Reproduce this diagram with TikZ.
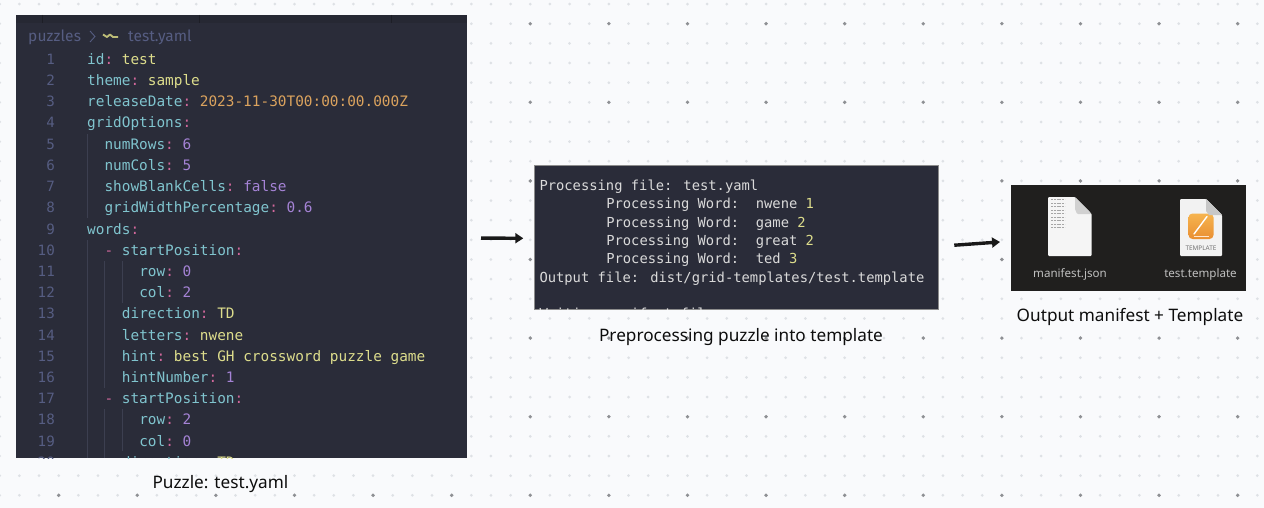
\documentclass[tikz,border=0pt]{standalone}
\usepackage{fontspec}
\usetikzlibrary{arrows.meta}
\setmainfont{Noto Sans}
\newfontfamily\codefont{DejaVu Sans Mono}
\newfontfamily\crumbfont{Fira Sans}
\definecolor{pagebg}{HTML}{F9FAFC}
\definecolor{smalldot}{HTML}{DEE1E5}
\definecolor{bigdot}{HTML}{8E9094}
\definecolor{editorbg}{HTML}{2A2C39}
\definecolor{tabbg}{HTML}{262833}
\definecolor{keyc}{HTML}{80C4CE}
\definecolor{colonc}{HTML}{D2689C}
\definecolor{valc}{HTML}{DDDD8C}
\definecolor{datec}{HTML}{DBA35E}
\definecolor{numc}{HTML}{A583D6}
\definecolor{linenoc}{HTML}{565D82}
\definecolor{guidec}{HTML}{3C3F50}
\definecolor{termtext}{HTML}{DADADA}
\definecolor{finderbg}{HTML}{201F1E}
\definecolor{icontop}{HTML}{F6B44F}
\definecolor{iconbot}{HTML}{E98F32}
\newcommand{\K}[1]{\textcolor{keyc}{#1}}
\newcommand{\Cn}{\textcolor{colonc}{:}}
\newcommand{\V}[1]{\textcolor{valc}{#1}}
\newcommand{\D}[1]{\textcolor{datec}{#1}}
\newcommand{\N}[1]{\textcolor{numc}{#1}}
\newcommand{\Dash}{\textcolor{colonc}{-}}
\newcommand{\codeline}[3]{%
  \pgfmathsetmacro{\ybase}{64.4+21.2*(#1-1)}%
  \node[lineno] (ln#1) at (55,\ybase) {#1};
  \node[codetext] (cl#1) at ({87+8.68*#2},\ybase) {#3};
}
\newcommand{\termline}[3]{%
  \pgfmathsetmacro{\ybase}{190.7+18.27*#1}%
  \node[termstyle] (tl#1) at ({539.3+8.35*#2},\ybase) {#3};
}
\tikzset{
  x=1pt,y=-1pt,
  panel/.style={inner sep=0pt,outer sep=0pt,anchor=north west},
  lineno/.style={inner sep=0pt,anchor=base east,text=linenoc,font=\codefont\fontsize{14.2}{14.2}\selectfont},
  codetext/.style={inner sep=0pt,anchor=base west,font=\codefont\fontsize{14.4}{14.4}\selectfont},
  termstyle/.style={inner sep=0pt,anchor=base west,text=termtext,font=\codefont\fontsize{13.8}{13.8}\selectfont},
  crumb/.style={inner sep=0pt,anchor=base west,text=linenoc,font=\crumbfont\fontsize{15.5}{15.5}\selectfont},
  caption/.style={inner sep=0pt,anchor=base,text=black!95,font=\fontsize{17.2}{17.2}\selectfont},
  filelabel/.style={inner sep=0pt,anchor=base,text=black!25,font=\fontsize{11.6}{11.6}\selectfont},
  guide/.style={draw=guidec,line width=0.8pt},
  handarrow/.style={draw=black!90,line width=3.4pt,-{Triangle[length=8pt,width=10pt]}},
}
\begin{document}
\begin{tikzpicture}
\useasboundingbox (0,0) rectangle (1264,508);
\fill[pagebg] (0,0) rectangle (1264,508);
% dotted canvas
\foreach \i in {-3,...,61}{
  \foreach \j in {-1,...,25}{
    \pgfmathsetmacro{\xx}{58.67+19.65*\i}
    \pgfmathsetmacro{\yy}{495.3-19.65*\j}
    \pgfmathtruncatemacro{\mi}{abs(mod(\i,4))}
    \pgfmathtruncatemacro{\mj}{abs(mod(\j,4))}
    \pgfmathtruncatemacro{\bigone}{\mi+\mj}
    \ifnum\bigone=0
      \fill[bigdot] (\xx,\yy) circle[radius=1.9];
    \else
      \fill[smalldot] (\xx,\yy) circle[radius=1.5];
    \fi
  }
}
% panels
\node[panel,fill=editorbg,minimum width=451.5pt,minimum height=443pt] (editor) at (15.5,15) {};
\node[panel,fill=editorbg,draw=black!45,line width=0.6pt,minimum width=404pt,minimum height=144.7pt] (terminal) at (534.3,165) {};
\node[panel,fill=finderbg,minimum width=235pt,minimum height=106pt] (finder) at (1011,184.7) {};
% editor contents
\begin{scope}
\clip (editor.north west) rectangle (editor.south east);
\fill[tabbg] (15.5,15) rectangle (467,23);
\draw[tabbg!75!black,line width=0.6pt] (42.5,15) -- (42.5,23) (199.5,15) -- (199.5,23) (391,15) -- (391,23);
\node[crumb] (crumbdir) at (28,41.6) {\addfontfeature{LetterSpace=1}puzzles};
\draw[linenoc,line width=0.9pt] (90,31) -- (95,36.5) -- (90,42);
\draw[valc!85!black,line width=1.9pt,line join=bevel] (103,34.5) -- (107,37) -- (110,34.5) -- (113,37) -- (118,37);
\node[crumb] (crumbfile) at (128,41.6) {test.yaml};
\draw[guide] (87.5,134) -- (87.5,218);
\draw[guide] (87.5,240) -- (87.5,458);
\draw[guide] (104.5,261) -- (104.5,388);
\draw[guide] (104.5,409) -- (104.5,458);
\draw[guide] (122,261) -- (122,303);
\draw[guide] (122,409) -- (122,451);
\codeline{1}{0}{\K{id}\Cn\ \V{test}}
\codeline{2}{0}{\K{theme}\Cn\ \V{sample}}
\codeline{3}{0}{\K{releaseDate}\Cn\ \D{2023-11-30T00:00:00.000Z}}
\codeline{4}{0}{\K{gridOptions}\Cn}
\codeline{5}{2}{\K{numRows}\Cn\ \N{6}}
\codeline{6}{2}{\K{numCols}\Cn\ \N{5}}
\codeline{7}{2}{\K{showBlankCells}\Cn\ \N{false}}
\codeline{8}{2}{\K{gridWidthPercentage}\Cn\ \N{0.6}}
\codeline{9}{0}{\K{words}\Cn}
\codeline{10}{2}{\Dash\ \K{startPosition}\Cn}
\codeline{11}{6}{\K{row}\Cn\ \N{0}}
\codeline{12}{6}{\K{col}\Cn\ \N{2}}
\codeline{13}{4}{\K{direction}\Cn\ \V{TD}}
\codeline{14}{4}{\K{letters}\Cn\ \V{nwene}}
\codeline{15}{4}{\K{hint}\Cn\ \V{best GH crossword puzzle game}}
\codeline{16}{4}{\K{hintNumber}\Cn\ \N{1}}
\codeline{17}{2}{\Dash\ \K{startPosition}\Cn}
\codeline{18}{6}{\K{row}\Cn\ \N{2}}
\codeline{19}{6}{\K{col}\Cn\ \N{0}}
\codeline{20}{4}{\K{direction}\Cn\ \V{TD}}
\end{scope}
% terminal contents
\begin{scope}
\clip (terminal.north west) rectangle (terminal.south east);
\termline{0}{0}{Processing file: test.yaml}
\termline{1}{8}{Processing Word:\ \ nwene \textcolor{valc}{1}}
\termline{2}{8}{Processing Word:\ \ game \textcolor{valc}{2}}
\termline{3}{8}{Processing Word:\ \ great \textcolor{valc}{2}}
\termline{4}{8}{Processing Word:\ \ ted \textcolor{valc}{3}}
\termline{5}{0}{Output file: dist/grid-templates/test.template}
\termline{7}{0}{Writing manifest file}
\end{scope}
% file icons
\fill[black!4,rounded corners=1pt] (1048,197) -- (1075,197) -- (1091.7,214) -- (1091.7,256) -- (1048,256) -- cycle;
\fill[black!18] (1075,197) -- (1075,209) [rounded corners=1pt] -- (1077,214) -- (1091.7,214) -- cycle;
\foreach \ly in {199.5,203,206.5,210,213.5,217,220.5,224,227.5}
  \draw[black!35,line width=0.7pt,dash pattern=on 2pt off 0.8pt] (1051,\ly) -- (1065,\ly);
\fill[black!5,rounded corners=1pt] (1180,199) -- (1206,199) -- (1222,215) -- (1222,256) -- (1180,256) -- cycle;
\shade[top color=icontop,bottom color=iconbot,rounded corners=4pt] (1188.5,213.5) rectangle (1213.5,239);
\fill[black!22] (1206,199) -- (1206,211) -- (1209,215) -- (1222,215) -- cycle;
\draw[white,line width=1.4pt,line cap=round] (1194,234) -- (1207,216.5);
\draw[white!80!orange,line width=0.8pt] (1194,236) -- (1209,236);
\node[inner sep=0pt,text=black!55,font=\fontsize{6.4}{6.4}\selectfont] (tmplbadge) at (1201,248.5) {TEMPLATE};
\node[filelabel] (manifestlabel) at (1070,277) {manifest.json};
\node[filelabel] (templatelabel) at (1200.5,277) {test.template};
% captions
\node[caption] (cap1) at (220.5,488) {Puzzle: test.yaml};
\node[caption] (cap2) at (741,341) {Preprocessing puzzle into template};
\node[caption] (cap3) at (1130,321) {Output manifest + Template};
% arrows
\draw[handarrow,shorten <=14pt,shorten >=11pt] ([yshift=-1.5pt]editor.east) -- ([yshift=-1pt]terminal.west);
\draw[handarrow,shorten <=16pt,shorten >=11pt] ([yshift=-9pt]terminal.east) -- ([yshift=-3.5pt]finder.west);
\end{tikzpicture}
\end{document}
